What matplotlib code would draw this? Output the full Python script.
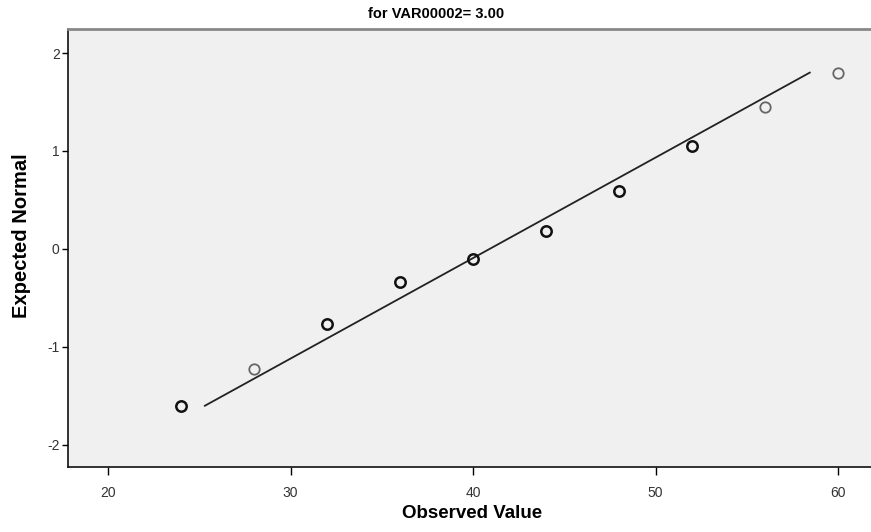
import matplotlib
matplotlib.use('Agg')
import matplotlib.pyplot as plt
import numpy as np

# observed values and their expected normal scores
observed = [24, 28, 32, 36, 40, 44, 48, 52, 56, 60]
expected = [-1.60, -1.22, -0.765, -0.335, -0.10, 0.18, 0.59, 1.05, 1.45, 1.80]
# how many cases sit on each point (ties drawn darker)
ties = [2, 1, 2, 2, 2, 2, 2, 2, 1, 1]

# reference line end points
line_x = [25.3, 58.45]
line_y = [-1.60, 1.80]

title = 'for VAR00002= 3.00'
xlabel = 'Observed Value'
ylabel = 'Expected Normal'
xticks = [20, 30, 40, 50, 60]
yticks = [-2, -1, 0, 1, 2]

arial = ['Liberation Sans', 'DejaVu Sans']

fig = plt.figure(figsize=(8.71, 5.32), dpi=100)
ax = fig.add_axes([68 / 871, 65 / 532, 1 - 68 / 871 + 0.002, 438 / 532])
ax.set_facecolor('#f0f0f0')

ax.plot(line_x, line_y, color='#222222', lw=1.3, zorder=2)
for x, y, n in zip(observed, expected, ties):
    col = '#111111' if n > 1 else '#666666'
    lw = 1.8 if n > 1 else 1.3
    ax.plot(x, y, 'o', ms=7.5, mfc='none', mec=col, mew=lw, zorder=3)

ax.set_xlim(17.8, 61.9)
ax.set_ylim(-2.225, 2.245)
ax.set_xticks(xticks)
ax.set_yticks(yticks)
ax.set_xticklabels([str(t) for t in xticks], family=arial, fontsize=10, color='#333333')
ax.set_yticklabels([str(t) for t in yticks], family=arial, fontsize=10, color='#333333')
ax.tick_params(axis='x', direction='out', length=6, width=1, pad=8)
ax.tick_params(axis='y', direction='out', length=4, width=1, pad=2)

for side in ['left', 'bottom']:
    ax.spines[side].set_color('#111111')
    ax.spines[side].set_linewidth(1.2)
ax.spines['top'].set_color('#888888')
ax.spines['top'].set_linewidth(2)
ax.spines['right'].set_visible(False)

fig.text(472 / 871, 1 - 513 / 532, xlabel, family=arial, fontsize=13.5,
         fontweight='bold', ha='center', va='center')
fig.text(22 / 871, 1 - 236 / 532, ylabel, family=arial, fontsize=14.5,
         fontweight='bold', ha='center', va='center', rotation=90)
fig.text(436 / 871, 1 - 14 / 532, title, family=arial, fontsize=10.5,
         fontweight='bold', ha='center', va='center')

fig.savefig('out.png', dpi=100)
